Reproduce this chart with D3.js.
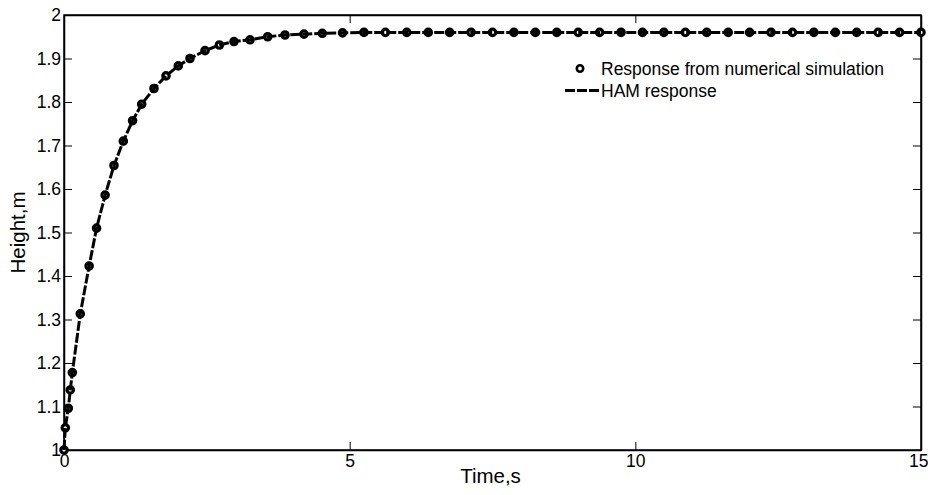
<!DOCTYPE html>
<html>
<head>
<meta charset="utf-8">
<script src="https://cdn.jsdelivr.net/npm/d3@7"></script>
<style>
  body { margin: 0; background: #fff; }
  text { font-family: Arial, "Liberation Sans", sans-serif; fill: #000; }
</style>
</head>
<body>
<div id="chart"></div>
<script>

// data
var simTime = [0, 0.023, 0.075, 0.11, 0.146, 0.285, 0.44, 0.57, 0.72, 0.875,
  1.038, 1.2, 1.36, 1.575, 1.785, 2.0, 2.205, 2.468, 2.72, 2.975,
  3.256, 3.565, 3.868, 4.2, 4.52, 4.875, 5.25, 5.625, 6.0, 6.375,
  6.75, 7.125, 7.5, 7.875, 8.25, 8.625, 9.0, 9.375, 9.75, 10.125,
  10.5, 10.875, 11.25, 11.625, 12.0, 12.375, 12.75, 13.125, 13.5, 13.875,
  14.25, 14.625, 15.0];

var simHeight = [1.0, 1.051, 1.096, 1.138, 1.178, 1.313, 1.423, 1.51, 1.586, 1.654,
  1.71, 1.757, 1.795, 1.831, 1.86, 1.883, 1.9, 1.918, 1.931, 1.939,
  1.943, 1.95, 1.954, 1.956, 1.958, 1.959, 1.96, 1.96, 1.96, 1.96,
  1.96, 1.96, 1.96, 1.96, 1.96, 1.96, 1.96, 1.96, 1.96, 1.96,
  1.96, 1.96, 1.96, 1.96, 1.96, 1.96, 1.96, 1.96, 1.96, 1.96,
  1.96, 1.96, 1.96];

var hamTime = simTime;
var hamHeight = [1.0, 1.051, 1.096, 1.138, 1.178, 1.313, 1.423, 1.51, 1.586, 1.654,
  1.71, 1.757, 1.795, 1.831, 1.86, 1.883, 1.9, 1.918, 1.931, 1.939,
  1.943, 1.95, 1.954, 1.956, 1.958, 1.959, 1.96, 1.96, 1.96, 1.96,
  1.96, 1.96, 1.96, 1.96, 1.96, 1.96, 1.96, 1.96, 1.96, 1.96,
  1.96, 1.96, 1.96, 1.96, 1.96, 1.96, 1.96, 1.96, 1.96, 1.96,
  1.96, 1.96, 1.96];

var xTicks = [0, 5, 10, 15];
var yTicks = [1, 1.1, 1.2, 1.3, 1.4, 1.5, 1.6, 1.7, 1.8, 1.9, 2];
var legendLabels = ['Response from numerical simulation', 'HAM response'];

var svgWidth = 928;
var svgHeight = 495;

var margin = { top: 15, right: 7, bottom: 45, left: 64 };
var width = svgWidth - margin.left - margin.right;
var height = svgHeight - margin.top - margin.bottom;

var svg = d3.select('#chart')
  .append('svg')
  .attr('width', svgWidth)
  .attr('height', svgHeight);

var chartGroup = svg.append('g')
  .attr('transform', `translate(${margin.left}, ${margin.top})`);

var xScale = d3.scaleLinear().domain([0, 15]).range([0, width]);
var yScale = d3.scaleLinear().domain([1, 2]).range([height, 0]);

var tickLen = 8;

// matlab style box axes, ticks pointing inward
var bottomAxis = d3.axisBottom(xScale).tickValues(xTicks).tickSizeInner(-tickLen).tickSizeOuter(0).tickPadding(5).tickFormat(d3.format('d'));
var topAxis = d3.axisTop(xScale).tickValues(xTicks).tickSizeInner(-tickLen).tickSizeOuter(0).tickFormat('');
var leftAxis = d3.axisLeft(yScale).tickValues(yTicks).tickSizeInner(-tickLen).tickSizeOuter(0).tickPadding(3).tickFormat(d => d3.format('~g')(d));
var rightAxis = d3.axisRight(yScale).tickValues(yTicks).tickSizeInner(-tickLen).tickSizeOuter(0).tickFormat('');

var xAxisG = chartGroup.append('g')
  .attr('transform', `translate(0, ${height})`)
  .call(bottomAxis);
chartGroup.append('g').call(topAxis);
var yAxisG = chartGroup.append('g').call(leftAxis);
chartGroup.append('g').attr('transform', `translate(${width}, 0)`).call(rightAxis);

chartGroup.selectAll('.domain').attr('stroke', '#000').attr('stroke-width', 1.5);
chartGroup.selectAll('.tick line').attr('stroke', '#000').attr('stroke-width', 1);
chartGroup.selectAll('.tick text')
  .attr('font-size', '17.5px')
  .attr('font-family', 'Arial, "Liberation Sans", sans-serif')
  .attr('fill', '#000');

// last x label sits on the window edge, keep it inside
xAxisG.selectAll('.tick text')
  .filter(d => d === 15)
  .attr('text-anchor', 'end')
  .attr('dx', 7);

// box edges
chartGroup.append('rect')
  .attr('x', 0).attr('y', 0)
  .attr('width', width).attr('height', height)
  .attr('fill', 'none')
  .attr('stroke', '#000')
  .attr('stroke-width', 1.5);

var simData = simTime.map((t, i) => ({ t: t, h: simHeight[i] }));
var hamData = hamTime.map((t, i) => ({ t: t, h: hamHeight[i] }));

// markers for numerical simulation
chartGroup.selectAll('circle.sim')
  .data(simData)
  .enter()
  .append('circle')
  .classed('sim', true)
  .attr('cx', d => xScale(d.t))
  .attr('cy', d => yScale(d.h))
  .attr('r', 3.2)
  .attr('fill', '#fff')
  .attr('stroke', '#000')
  .attr('stroke-width', 3.2);

// HAM dashed line
var line = d3.line()
  .x(d => xScale(d.t))
  .y(d => yScale(d.h));

chartGroup.append('path')
  .datum(hamData)
  .attr('d', line)
  .attr('fill', 'none')
  .attr('stroke', '#000')
  .attr('stroke-width', 3)
  .attr('stroke-dasharray', '10,2');

// legend
var legend = svg.append('g');
legend.append('circle')
  .attr('cx', 580).attr('cy', 68.5)
  .attr('r', 3.2)
  .attr('fill', '#fff')
  .attr('stroke', '#000')
  .attr('stroke-width', 2.6);
legend.append('text')
  .attr('x', 601).attr('y', 74.5)
  .attr('font-size', '17.5px')
  .text(legendLabels[0]);
legend.append('line')
  .attr('x1', 565).attr('x2', 600)
  .attr('y1', 90.5).attr('y2', 90.5)
  .attr('stroke', '#000')
  .attr('stroke-width', 3)
  .attr('stroke-dasharray', '10,2');
legend.append('text')
  .attr('x', 601).attr('y', 96.5)
  .attr('font-size', '17.5px')
  .text(legendLabels[1]);

// axis labels
svg.append('text')
  .attr('x', margin.left + width / 2 - 2)
  .attr('y', 483)
  .attr('text-anchor', 'middle')
  .attr('font-size', '20.5px')
  .text('Time,s');

svg.append('text')
  .attr('transform', `translate(25, ${margin.top + height / 2}) rotate(-90)`)
  .attr('text-anchor', 'middle')
  .attr('font-size', '20.5px')
  .text('Height,m');

</script>
</body>
</html>
